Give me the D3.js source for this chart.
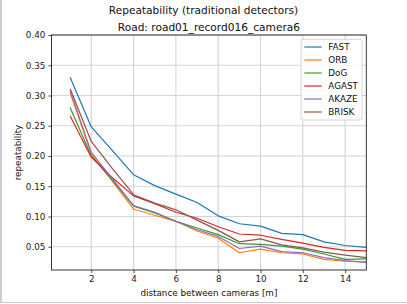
<!DOCTYPE html>
<html><head><meta charset="utf-8">
<script src="https://cdn.jsdelivr.net/npm/d3@7"></script>
<style>
html,body{margin:0;padding:0;background:#fff;}
svg{display:block;font-family:"DejaVu Sans",sans-serif;}
</style></head>
<body><svg id="c" width="407" height="304"></svg>
<script>
const distances = [1,2,3,4,5,6,7,8,9,10,11,12,13,14,15];
const seriesNames = ["FAST","ORB","DoG","AGAST","AKAZE","BRISK"];
const FAST  = [0.330,0.248,0.209,0.169,0.151,0.137,0.123,0.101,0.088,0.084,0.072,0.070,0.058,0.052,0.049];
const ORB   = [0.305,0.203,0.158,0.112,0.102,0.092,0.076,0.064,0.040,0.046,0.040,0.038,0.029,0.026,0.025];
const DoG   = [0.280,0.200,0.160,0.117,0.106,0.092,0.081,0.070,0.055,0.054,0.051,0.046,0.038,0.029,0.030];
const AGAST = [0.266,0.198,0.164,0.134,0.121,0.107,0.097,0.083,0.071,0.069,0.062,0.056,0.049,0.044,0.043];
const AKAZE = [0.308,0.206,0.162,0.118,0.107,0.092,0.078,0.067,0.047,0.051,0.042,0.040,0.032,0.027,0.024];
const BRISK = [0.311,0.224,0.179,0.136,0.122,0.111,0.094,0.077,0.058,0.063,0.053,0.048,0.041,0.036,0.032];
const xTicks = [2,4,6,8,10,12,14];
const yTicks = [0.05,0.10,0.15,0.20,0.25,0.30,0.35,0.40];
const colors = ["#1f77b4","#ff7f0e","#2ca02c","#d62728","#9467bd","#8c564b"];
const titleText = "Repeatability (traditional detectors)";
const subtitleText = "Road: road01_record016_camera6";
const xLabel = "distance between cameras [m]";
const yLabel = "repeatability";

const series = [FAST,ORB,DoG,AGAST,AKAZE,BRISK];
const svg = d3.select("#c");
const L=51.5, R=366.3, T=35, B=270;
const x = d3.scaleLinear().domain([0.12,15]).range([L,R]);
const y = d3.scaleLinear().domain([0.0115,0.40]).range([B,T]);

// screenshot border
svg.append("line").attr("x1",1).attr("x2",1).attr("y1",0).attr("y2",303).attr("stroke","#9a9a9a").attr("stroke-width",1);
svg.append("line").attr("x1",1).attr("x2",407).attr("y1",302.5).attr("y2",302.5).attr("stroke","#c8c8c8").attr("stroke-width",1);

// grid
const g = svg.append("g");
g.selectAll(".gx").data(xTicks).enter().append("line")
 .attr("x1",d=>x(d)).attr("x2",d=>x(d)).attr("y1",T).attr("y2",B)
 .attr("stroke","#d4d4d4").attr("stroke-width",1.1);
g.selectAll(".gy").data(yTicks).enter().append("line")
 .attr("x1",L).attr("x2",R).attr("y1",d=>y(d)).attr("y2",d=>y(d))
 .attr("stroke","#d4d4d4").attr("stroke-width",1.1);

// lines
const line = d3.line().x((d,i)=>x(distances[i])).y(d=>y(d));
series.forEach((s,k)=>{
  svg.append("path").datum(s).attr("d",line).attr("fill","none")
   .attr("stroke",colors[k]).attr("stroke-width",1.2).attr("stroke-linejoin","round");
});

// axes
const xa = svg.append("g").attr("transform",`translate(0,${B})`)
 .call(d3.axisBottom(x).tickValues(xTicks).tickSize(3.1).tickPadding(3).tickFormat(d3.format("d")));
const ya = svg.append("g").attr("transform",`translate(${L},0)`)
 .call(d3.axisLeft(y).tickValues(yTicks).tickSize(3.1).tickPadding(3).tickFormat(d3.format(".2f")));
[xa,ya].forEach(a=>{
  a.select(".domain").remove();
  a.selectAll("text").attr("font-size","8.8px").attr("font-family","DejaVu Sans").attr("fill","#222");
  a.selectAll("line").attr("stroke","#222").attr("stroke-width",0.8);
});
// spines
svg.append("rect").attr("x",L).attr("y",T).attr("width",R-L).attr("height",B-T)
 .attr("fill","none").attr("stroke","#222").attr("stroke-width",0.9);

// titles
svg.append("text").attr("x",203.5).attr("y",10).attr("dy","0.35em").attr("text-anchor","middle")
 .attr("font-size","10.6px").attr("fill","#111").text(titleText);
svg.append("text").attr("x",(L+R)/2).attr("y",27.3).attr("dy","0.35em").attr("text-anchor","middle")
 .attr("font-size","10.6px").attr("fill","#111").text(subtitleText);
svg.append("text").attr("x",(L+R)/2).attr("y",293).attr("dy","0.35em").attr("text-anchor","middle")
 .attr("font-size","8.8px").attr("fill","#111").text(xLabel);
svg.append("text").attr("transform",`translate(18,${(T+B)/2}) rotate(-90)`).attr("dy","0.35em")
 .attr("text-anchor","middle").attr("font-size","8.8px").attr("fill","#111").text(yLabel);

// legend
const lg = svg.append("g");
lg.append("rect").attr("x",301).attr("y",39.3).attr("width",61).attr("height",80.7).attr("rx",2)
 .attr("fill","#fff").attr("fill-opacity",0.85).attr("stroke","#cccccc").attr("stroke-width",0.8);
seriesNames.forEach((n,k)=>{
  const yy = 47 + k*13;
  lg.append("line").attr("x1",304.3).attr("x2",321.7).attr("y1",yy).attr("y2",yy)
   .attr("stroke",colors[k]).attr("stroke-width",1.2);
  lg.append("text").attr("x",328.3).attr("y",yy).attr("dy","0.35em").attr("font-size","8.8px")
   .attr("fill","#111").text(n);
});
</script></body></html>
